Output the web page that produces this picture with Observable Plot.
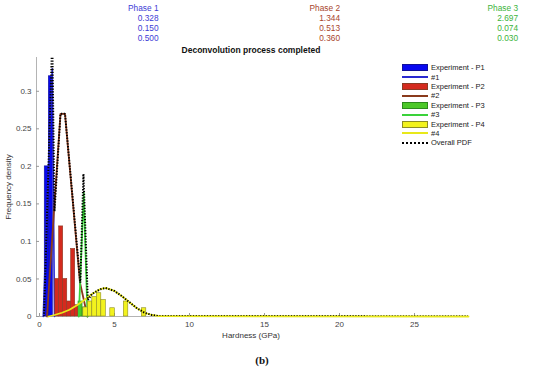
<!DOCTYPE html>
<html>
<head>
<meta charset="utf-8">
<script src="https://cdn.jsdelivr.net/npm/d3@7"></script>
<script src="https://cdn.jsdelivr.net/npm/@observablehq/plot@0.6"></script>
<style>
  body { margin: 0; background: #fff; }
  #wrap { position: relative; width: 550px; height: 371px; font-family: "Liberation Sans", Arial, sans-serif; }
  .abs { position: absolute; white-space: nowrap; }
  .hdr { font-size: 8.3px; line-height: 10px; text-align: right; width: 60px; }
  .leg { position: absolute; left: 402px; top: 63px; font-size: 7.5px; color: #222; }
  .row { height: 9.4px; display: flex; align-items: center; }
  .sw { width: 24px; height: 5px; margin-right: 3px; box-sizing: content-box; }
  .ln { width: 26px; height: 0; margin-right: 3px; }
</style>
</head>
<body>
<div id="wrap"></div>
<script>
// ---- data ----
const phaseNames = ["Phase 1", "Phase 2", "Phase 3"];
const phaseMean = ["0.328", "1.344", "2.697"];
const phaseStd = ["0.150", "0.513", "0.074"];
const phaseFrac = ["0.500", "0.360", "0.030"];

// histogram bars (bin start, bin end, height)
const p1Lo = [0.35, 0.62];
const p1Hi = [0.62, 0.89];
const p1H = [0.20, 0.32];

const p2Lo = [1.05, 1.31, 1.58, 1.85, 2.11, 2.38];
const p2Hi = [1.31, 1.58, 1.85, 2.11, 2.38, 2.65];
const p2H = [0.05, 0.12, 0.05, 0.02, 0.09, 0.015];

const p3Lo = [2.60, 2.87];
const p3Hi = [2.87, 3.13];
const p3H = [0.02, 0.012];

const p4Lo = [2.92, 3.22, 3.52, 3.82, 4.12, 4.72, 5.62, 6.82];
const p4Hi = [3.22, 3.52, 3.82, 4.12, 4.42, 5.02, 5.92, 7.12];
const p4H = [0.012, 0.02, 0.026, 0.031, 0.022, 0.011, 0.02, 0.011];

// fitted curves
const c1X = [0.25, 0.6, 0.85, 1.0];
const c1Y = [0, 0.2, 0.33, 0];
const c2X = [0.5, 1.4, 1.7, 2.7, 3.2];
const c2Y = [0, 0.27, 0.27, 0.045, 0];
const c3X = [2.62, 2.95, 3.2];
const c3Y = [0, 0.165, 0];
const c4X = [0.6, 1.0, 1.5, 2.0, 2.5, 3.0, 3.5, 4.0, 4.4, 5.0, 5.5, 6.0, 6.5, 7.0, 7.5, 8.0, 28.6];
const c4Y = [0, 0.002, 0.005, 0.009, 0.015, 0.022, 0.03, 0.036, 0.038, 0.034, 0.027, 0.019, 0.011, 0.005, 0.002, 0.0005, 0];
const oX = [0.3, 0.85, 1.0, 1.4, 1.7, 2.72, 2.93, 3.22, 3.5, 4.0, 4.4, 5.0, 5.5, 6.0, 6.5, 7.0, 7.5, 8.0, 28.6];
const oY = [0, 0.37, 0.14, 0.27, 0.27, 0.045, 0.19, 0.022, 0.03, 0.036, 0.038, 0.034, 0.027, 0.019, 0.011, 0.005, 0.002, 0.0005, 0];

const xTicks = [0, 5, 10, 15, 20, 25];
const yTicks = [0, 0.05, 0.1, 0.15, 0.2, 0.25, 0.3];
const yTickLabels = ["0", "0.05", "0.1", "0.15", "0.2", "0.25", "0.3"];

const legendLabels = ["Experiment - P1", "#1", "Experiment - P2", "#2", "Experiment - P3", "#3", "Experiment - P4", "#4", "Overall PDF"];

// ---- styles ----
const col = {
  p1: {fill: "#0808f0", stroke: "#10109a", line: "#2a2ad0"},
  p2: {fill: "#d42a1e", stroke: "#8c3a24", line: "#8a3a1c"},
  p3: {fill: "#4cc828", stroke: "#2c8a1c", line: "#3ad23a"},
  p4: {fill: "#f2f21e", stroke: "#8c8c26", line: "#e8e81a"}
};
const headerColors = ["#3c3cd6", "#a8442c", "#3cb43c"];

const bars = (lo, hi, h) => lo.map((d, i) => ({x1: d, x2: hi[i], y: h[i]}));
const pts = (xs, ys) => xs.map((x, i) => ({x, y: ys[i]}));

const xMin = -0.2, xMax = 28.6;

const plot = Plot.plot({
  width: 550,
  height: 371,
  marginLeft: 36,
  marginRight: 82,
  marginTop: 57,
  marginBottom: 55,
  style: {fontSize: "8px", fontFamily: "'Liberation Sans', Arial, sans-serif", color: "#333", background: "transparent"},
  x: {domain: [xMin, xMax]},
  y: {domain: [0, 0.345]},
  marks: [
    Plot.ruleX([xMin], {stroke: "#b4b4b4"}),
    Plot.ruleY([0], {stroke: "#b4b4b4"}),
    Plot.ruleY(yTicks, {x1: xMin, x2: xMin + 0.2, stroke: "#999"}),
    Plot.ruleX(xTicks, {y1: 0, y2: 0.004, stroke: "#999"}),
    Plot.axisX(xTicks, {tickSize: 0, tickPadding: 5, label: null, fill: "#444"}),
    Plot.axisY(yTicks, {tickSize: 0, tickPadding: 5, label: null, fill: "#444", tickFormat: (d, i) => yTickLabels[i]}),
    Plot.rectY(bars(p1Lo, p1Hi, p1H), {x1: "x1", x2: "x2", y: "y", fill: col.p1.fill, stroke: col.p1.stroke, strokeWidth: 0.6}),
    Plot.line(pts(c1X, c1Y), {x: "x", y: "y", stroke: col.p1.line, strokeWidth: 1.6}),
    Plot.rectY(bars(p2Lo, p2Hi, p2H), {x1: "x1", x2: "x2", y: "y", fill: col.p2.fill, stroke: col.p2.stroke, strokeWidth: 0.6}),
    Plot.line(pts(c2X, c2Y), {x: "x", y: "y", stroke: col.p2.line, strokeWidth: 1.8}),
    Plot.rectY(bars(p3Lo, p3Hi, p3H), {x1: "x1", x2: "x2", y: "y", fill: col.p3.fill, stroke: col.p3.stroke, strokeWidth: 0.6}),
    Plot.line(pts(c3X, c3Y), {x: "x", y: "y", stroke: col.p3.line, strokeWidth: 1.8}),
    Plot.rectY(bars(p4Lo, p4Hi, p4H), {x1: "x1", x2: "x2", y: "y", fill: col.p4.fill, stroke: col.p4.stroke, strokeWidth: 0.6}),
    Plot.line(pts(c4X, c4Y), {x: "x", y: "y", stroke: col.p4.line, strokeWidth: 1.8}),
    Plot.line(pts(oX, oY), {x: "x", y: "y", stroke: "#000", strokeWidth: 2, strokeDasharray: "1.3,1.5", strokeLinecap: "butt", strokeLinejoin: "miter", clip: true})
  ]
});

const wrap = document.getElementById("wrap");
wrap.appendChild(plot);
plot.style.position = "absolute";
plot.style.left = "0";
plot.style.top = "0";

function addText(txt, css, cls) {
  const d = document.createElement("div");
  d.className = "abs " + (cls || "");
  d.textContent = txt;
  Object.assign(d.style, css);
  wrap.appendChild(d);
  return d;
}

// header table
const colRight = [158.5, 340, 518];
phaseNames.forEach((name, i) => {
  const vals = [name, phaseMean[i], phaseStd[i], phaseFrac[i]];
  vals.forEach((v, r) => {
    addText(v, {left: (colRight[i] - 60) + "px", top: (2.5 + r * 10) + "px", color: headerColors[i]}, "hdr");
  });
});

addText("Deconvolution process completed", {left: "251px", top: "45px", transform: "translateX(-50%)", fontSize: "8.5px", fontWeight: "bold", color: "#111"});
addText("Frequency density", {left: "8px", top: "187px", transform: "translate(-50%,-50%) rotate(-90deg)", fontSize: "8px", color: "#333"});
addText("Hardness (GPa)", {left: "251px", top: "331px", transform: "translateX(-50%)", fontSize: "8px", color: "#333"});
addText("(b)", {left: "262px", top: "354px", transform: "translateX(-50%)", fontSize: "11px", fontWeight: "bold", fontFamily: "'Liberation Serif', 'DejaVu Serif', serif", color: "#111"});

// legend
const leg = document.createElement("div");
leg.className = "leg";
const legendStyles = [
  {type: "sw", c: col.p1}, {type: "ln", c: col.p1.line},
  {type: "sw", c: col.p2}, {type: "ln", c: col.p2.line},
  {type: "sw", c: col.p3}, {type: "ln", c: col.p3.line},
  {type: "sw", c: col.p4}, {type: "ln", c: col.p4.line},
  {type: "dot", c: "#000"}
];
legendLabels.forEach((lab, i) => {
  const row = document.createElement("div");
  row.className = "row";
  const s = legendStyles[i];
  const sw = document.createElement("span");
  if (s.type === "sw") {
    sw.className = "sw";
    sw.style.background = s.c.fill;
    sw.style.border = "1px solid " + s.c.stroke;
  } else {
    sw.className = "ln";
    sw.style.borderTop = (s.type === "dot" ? "2px dotted " : "2px solid ") + s.c;
  }
  row.appendChild(sw);
  const t = document.createElement("span");
  t.textContent = lab;
  row.appendChild(t);
  leg.appendChild(row);
});
wrap.appendChild(leg);
</script>
</body>
</html>
